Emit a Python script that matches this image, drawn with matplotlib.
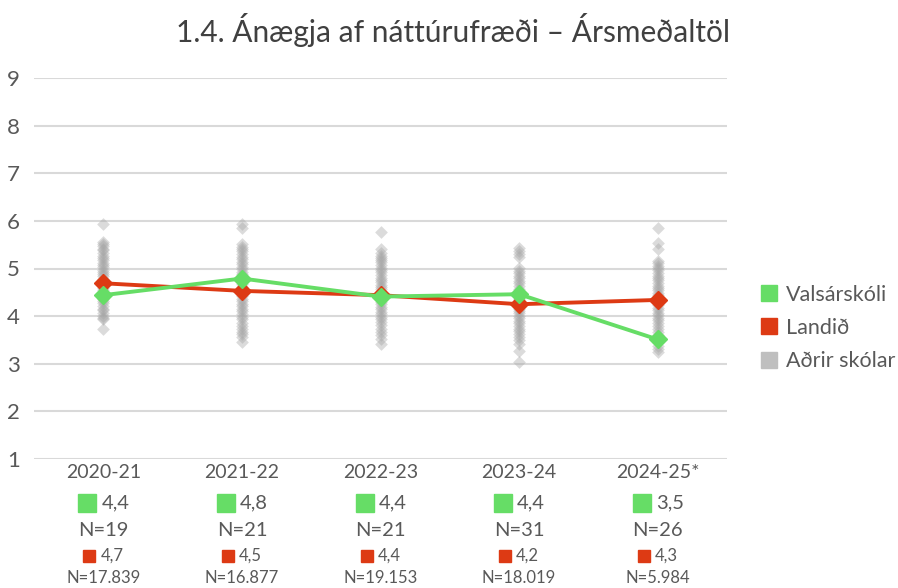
import matplotlib
matplotlib.use("Agg")
import matplotlib.pyplot as plt
from matplotlib.transforms import blended_transform_factory, offset_copy
from matplotlib.lines import Line2D

plt.rcParams['font.family'] = ['Lato', 'DejaVu Sans']

title = "1.4. Ánægja af náttúrufræði – Ársmeðaltöl"
years = ["2020-21", "2021-22", "2022-23", "2023-24", "2024-25*"]
school_name = "Valsárskóli"
national_name = "Landið"
others_name = "Aðrir skólar"

school = [4.44, 4.79, 4.41, 4.46, 3.51]
national = [4.69, 4.53, 4.44, 4.25, 4.34]
school_labels = ["4,4", "4,8", "4,4", "4,4", "3,5"]
national_labels = ["4,7", "4,5", "4,4", "4,2", "4,3"]
school_n = ["N=19", "N=21", "N=21", "N=31", "N=26"]
national_n = ["N=17.839", "N=16.877", "N=19.153", "N=18.019", "N=5.984"]

others_2020 = [5.93, 5.56, 5.52, 5.47, 5.41, 5.38, 5.33, 5.27, 5.22, 5.18, 5.12, 5.08, 5.03,
               4.97, 4.93, 4.88, 4.84, 4.79, 4.73, 4.7, 4.64, 4.6, 4.55, 4.49, 4.46, 4.41,
               4.36, 4.31, 4.27, 4.22, 4.16, 4.12, 4.06, 4.01, 3.97, 3.93, 3.72]
others_2021 = [5.93, 5.86, 5.51, 5.46, 5.4, 5.36, 5.3, 5.25, 5.2, 5.14, 5.1, 5.04, 4.99,
               4.93, 4.88, 4.84, 4.78, 4.72, 4.67, 4.62, 4.57, 4.52, 4.47, 4.42, 4.37,
               4.31, 4.26, 4.21, 4.15, 4.1, 4.04, 3.99, 3.93, 3.86, 3.8, 3.73, 3.67,
               3.62, 3.56, 3.46]
others_2022 = [5.77, 5.41, 5.32, 5.27, 5.22, 5.18, 5.13, 5.07, 5.02, 4.97, 4.92, 4.87,
               4.81, 4.76, 4.71, 4.66, 4.61, 4.56, 4.51, 4.46, 4.41, 4.35, 4.3, 4.25,
               4.2, 4.15, 4.09, 4.04, 3.98, 3.93, 3.87, 3.81, 3.74, 3.67, 3.6, 3.52, 3.41]
others_2023 = [5.43, 5.36, 5.3, 5.24, 5.01, 4.95, 4.9, 4.85, 4.8, 4.74, 4.69, 4.63, 4.58,
               4.53, 4.48, 4.43, 4.37, 4.32, 4.27, 4.22, 4.16, 4.11, 4.06, 4.01, 3.96,
               3.9, 3.85, 3.8, 3.74, 3.69, 3.63, 3.57, 3.5, 3.42, 3.27, 3.04]
others_2024 = [5.85, 5.53, 5.41, 5.16, 5.11, 5.06, 5.01, 4.96, 4.9, 4.85, 4.8, 4.75,
               4.7, 4.64, 4.59, 4.54, 4.49, 4.44, 4.38, 4.33, 4.28, 4.23, 4.18, 4.12,
               4.07, 4.02, 3.97, 3.92, 3.86, 3.8, 3.74, 3.67, 3.6, 3.53, 3.46, 3.38,
               3.31, 3.25]
others = [others_2020, others_2021, others_2022, others_2023, others_2024]

GREEN = "#66DD66"
RED = "#DD3A14"
GRAY = "#A6A6A6"
TXT = "#595959"

fig = plt.figure(figsize=(8.98, 5.88), dpi=100)
ax = fig.add_axes([34/898, 1-459/588, (727-34)/898, (459-78)/588])

for i, vals in enumerate(others):
    ax.scatter([i]*len(vals), vals, marker='D', s=42, color=GRAY, alpha=0.4,
               linewidths=0, zorder=2)

xs = list(range(len(years)))
ax.plot(xs, national, color=RED, lw=2.8, marker='D', markersize=9.5, zorder=3)
ax.plot(xs, school, color=GREEN, lw=2.8, marker='D', markersize=9.5, zorder=4)

ax.set_xlim(-0.5, 4.5)
ax.set_ylim(1, 9)
ax.set_yticks(range(1, 10))
ax.grid(axis='y', color='#D9D9D9', lw=1.5, zorder=0)
ax.set_axisbelow(True)
for s in ax.spines.values():
    s.set_visible(False)
ax.tick_params(axis='y', length=0, pad=10, labelsize=16, labelcolor=TXT)
ax.set_xticks([])

fig.text(453/898, 1-30/588, title, ha='center', va='center', fontsize=21.5, color='#404040')

tr = blended_transform_factory(ax.transData, fig.transFigure)
for i in xs:
    ax.text(i, 1-472/588, years[i], transform=tr, ha='center', va='center',
            fontsize=14, color=TXT)
    t_sq = offset_copy(tr, fig=fig, x=-16, y=0, units='dots')
    t_tx = offset_copy(tr, fig=fig, x=-2, y=0, units='dots')
    ax.plot([i], [1-503/588], marker='s', markersize=12.5, color=GREEN, transform=t_sq,
            clip_on=False)
    ax.text(i, 1-503/588, school_labels[i], transform=t_tx, ha='left', va='center',
            fontsize=14.5, color=TXT)
    ax.text(i, 1-530/588, school_n[i], transform=tr, ha='center', va='center',
            fontsize=14.5, color=TXT)
    t_sq2 = offset_copy(tr, fig=fig, x=-14, y=0, units='dots')
    t_tx2 = offset_copy(tr, fig=fig, x=-3, y=0, units='dots')
    ax.plot([i], [1-556/588], marker='s', markersize=8.5, color=RED, transform=t_sq2,
            clip_on=False)
    ax.text(i, 1-556/588, national_labels[i], transform=t_tx2, ha='left', va='center',
            fontsize=12, color=TXT)
    ax.text(i, 1-578/588, national_n[i], transform=tr, ha='center', va='center',
            fontsize=12, color=TXT)

handles = [Line2D([], [], marker='s', ls='none', markersize=12, color=c)
           for c in (GREEN, RED, "#BFBFBF")]
fig.legend(handles, [school_name, national_name, others_name], loc='center left',
           bbox_to_anchor=(747/898, 1-328/588), frameon=False, fontsize=15.5,
           labelspacing=0.62, handletextpad=0.3, handlelength=1.0, borderpad=0,
           labelcolor=TXT)

fig.savefig("out.png", dpi=100)
